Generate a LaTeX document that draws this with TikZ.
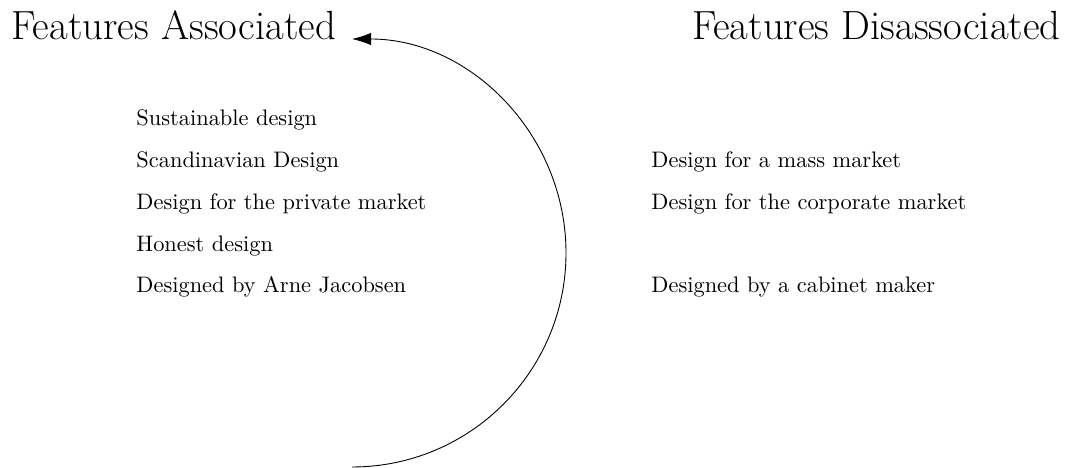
\documentclass[tikz,border=0pt]{standalone}
\usetikzlibrary{arrows.meta}
\begin{document}
\begin{tikzpicture}[x=0.4464pt,y=0.4464pt,
  item/.style={anchor=base west,inner sep=0pt,font=\normalsize},
  heading/.style={inner sep=0pt,font=\fontsize{18.2}{22}\selectfont}]
\useasboundingbox (0,0) rectangle (1066,468);
\node[heading,anchor=base west] (assoc) at (11,428) {Features Associated};
\node[heading,anchor=base east] (disassoc) at (1061,428) {Features Disassociated};
\node[item] (a1) at (136,342) {Sustainable design};
\node[item] (a2) at (136,300) {Scandinavian Design};
\node[item] (a3) at (136,258) {Design for the private market};
\node[item] (a4) at (136,216) {Honest design};
\node[item] (a5) at (136,175) {Designed by Arne Jacobsen};
\node[item] (d1) at (651,300) {Design for a mass market};
\node[item] (d2) at (651,258) {Design for the corporate market};
\node[item] (d3) at (651,175) {Designed by a cabinet maker};
\coordinate (arcstart) at (352,1);
\draw[-{Latex[length=8.5pt,width=5.5pt]}] (arcstart) arc[start angle=-90,end angle=90,radius=214];
\end{tikzpicture}
\end{document}
